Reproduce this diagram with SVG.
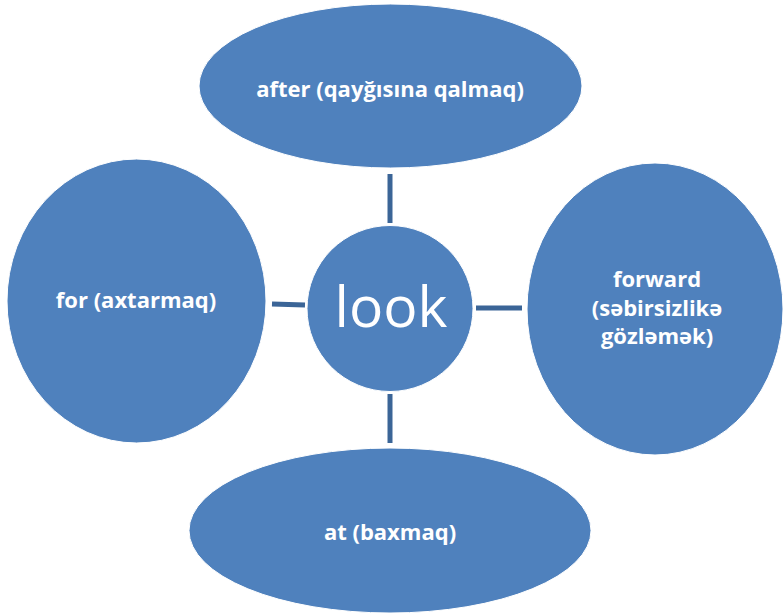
<svg xmlns="http://www.w3.org/2000/svg" width="783" height="614" viewBox="0 0 783 614">
<style>
.node{fill:#4F81BD;stroke:#FFFFFF;stroke-width:1}
.lbl{font-family:"Open Sans","Liberation Sans",sans-serif;font-weight:bold;font-size:22px;fill:#FFFFFF;text-anchor:middle}
.conn line{stroke:#3B6597;stroke-width:5}
</style>
<rect width="783" height="614" fill="#FFFFFF"/>
<g id="connectors" class="conn">
<line x1="390" y1="174" x2="390" y2="223"/>
<line x1="390" y1="394" x2="390" y2="443"/>
<line x1="272" y1="304" x2="305" y2="305"/>
<line x1="476" y1="308" x2="522" y2="308"/>
</g>
<g id="node-after">
<ellipse class="node" cx="390.5" cy="86" rx="191.5" ry="82"/>
<text class="lbl" x="390" y="97">after (qayğısına qalmaq)</text>
</g>
<g id="node-for">
<ellipse class="node" cx="136.5" cy="301" rx="129.5" ry="142"/>
<text class="lbl" x="136" y="308">for (axtarmaq)</text>
</g>
<g id="node-forward">
<ellipse class="node" cx="655" cy="309" rx="128" ry="146"/>
<text class="lbl" x="657" y="287">forward</text>
<text class="lbl" x="657" y="316">(səbirsizlikə</text>
<text class="lbl" x="657" y="344">gözləmək)</text>
</g>
<g id="node-at">
<ellipse class="node" cx="390" cy="530.5" rx="201" ry="82.5"/>
<text class="lbl" x="390" y="540">at (baxmaq)</text>
</g>
<g id="node-look">
<circle class="node" cx="390" cy="308.5" r="83"/>
<text x="391" y="327" font-family="'Open Sans','Liberation Sans',sans-serif" font-size="57" fill="#FFFFFF" text-anchor="middle">look</text>
</g>
</svg>
